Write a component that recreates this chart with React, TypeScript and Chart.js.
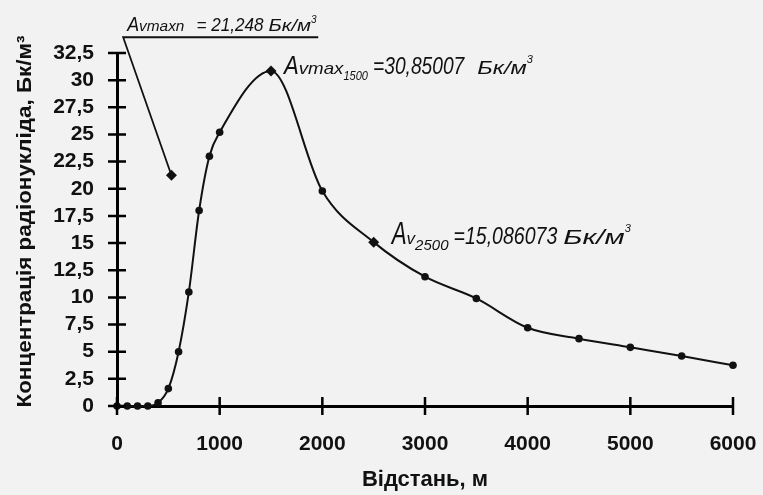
import React, { useEffect, useRef } from "react";
import { Chart, registerables } from "chart.js";

Chart.register(...registerables);

// ---- data ----
const distances = [0, 100, 200, 300, 400, 500, 600, 700, 800, 900, 1000, 1500, 2000, 2500, 3000, 3500, 4000, 4500, 5000, 5500, 6000];
const concentration = [0, 0, 0, 0, 0.3, 1.6, 5.0, 10.5, 18.0, 23.0, 25.2, 30.85007, 19.8, 15.086073, 11.9, 9.9, 7.2, 6.2, 5.4, 4.6, 3.75];
const diamondDistances = [1500, 2500];

// leader line of the "Avmaxn" note (underline + pointer to its diamond)
const noteLineX = [1960, 60, 530];
const noteLineY = [33.95, 33.95, 21.248];

const xMin = 0;
const xMax = 6000;
const xStep = 1000;
const yMin = 0;
const yMax = 32.5;
const yStep = 2.5;

const xTitle = "Відстань, м";
const yTitle = "Концентрація радіонукліда, Бк/м³";

const noteMaxN = { a: "A", sub: "vmaxn", val: "= 21,248", unit: "Бк/м" };
const noteMax1500 = { a: "A", mid: "vmax", sub: "1500", val: "=30,85007", unit: "Бк/м" };
const note2500 = { a: "A", mid: "v", sub: "2500", val: "=15,086073", unit: "Бк/м" };

const HAND = '"Liberation Sans"';

type Part = { t: string; size: number; dy?: number; sx?: number; gap?: number };

function drawRich(ctx: CanvasRenderingContext2D, x: number, y: number, parts: Part[]) {
  let cx = x;
  for (const p of parts) {
    cx += p.gap || 0;
    ctx.font = `italic ${p.size}px ${HAND}`;
    const w = ctx.measureText(p.t).width;
    const sx = p.sx || 1;
    ctx.save();
    ctx.translate(cx, y + (p.dy || 0));
    ctx.scale(sx, 1);
    ctx.fillText(p.t, 0, 0);
    ctx.restore();
    cx += w * sx;
  }
}

const crossTicks = {
  id: "crossTicks",
  afterDraw(chart: any) {
    const ctx = chart.ctx as CanvasRenderingContext2D;
    const xs = chart.scales.x;
    const ys = chart.scales.y;
    const ax = xs.getPixelForValue(xMin);
    const ay = ys.getPixelForValue(yMin);
    const L = 9;
    ctx.save();
    ctx.strokeStyle = "#000";
    ctx.lineWidth = 2.5;
    ctx.beginPath();
    for (let v = yMin; v <= yMax + 1e-9; v += yStep) {
      const py = ys.getPixelForValue(v);
      ctx.moveTo(ax - L, py);
      ctx.lineTo(ax + L, py);
    }
    for (let v = xMin; v <= xMax + 1e-9; v += xStep) {
      const px = xs.getPixelForValue(v);
      ctx.moveTo(px, ay - L);
      ctx.lineTo(px, ay + L);
    }
    ctx.stroke();
    ctx.restore();
  },
};

const yTitlePlugin = {
  id: "yTitlePlugin",
  afterDraw(chart: any) {
    const ctx = chart.ctx as CanvasRenderingContext2D;
    const ca = chart.chartArea;
    ctx.save();
    ctx.fillStyle = "#111";
    ctx.font = `bold 21px "Liberation Sans"`;
    ctx.textAlign = "center";
    ctx.textBaseline = "middle";
    const w = ctx.measureText(yTitle).width;
    const target = 372;
    ctx.translate(25, (ca.top + ca.bottom) / 2 - 8);
    ctx.rotate(-Math.PI / 2);
    ctx.scale(target / w, 1);
    ctx.fillText(yTitle, 0, 0);
    ctx.restore();
  },
};

const notes = {
  id: "notes",
  afterDraw(chart: any) {
    const ctx = chart.ctx as CanvasRenderingContext2D;
    const xs = chart.scales.x;
    const ys = chart.scales.y;
    ctx.save();
    ctx.fillStyle = "#111";
    ctx.textBaseline = "alphabetic";
    ctx.textAlign = "left";

    // note 1 sits on its underline
    const n1x = xs.getPixelForValue(noteLineX[1]) + 4;
    const n1y = ys.getPixelForValue(noteLineY[1]) - 6;
    drawRich(ctx, n1x, n1y, [
      { t: noteMaxN.a, size: 21, sx: 0.85 },
      { t: noteMaxN.sub, size: 14, sx: 1.1 },
      { t: noteMaxN.val, size: 18, sx: 0.95, gap: 12 },
      { t: noteMaxN.unit, size: 17, sx: 1.2, gap: 5 },
      { t: "3", size: 10, dy: -8 },
    ]);

    const meta = chart.getDatasetMeta(0);
    const i1500 = distances.indexOf(diamondDistances[0]);
    const i2500 = distances.indexOf(diamondDistances[1]);
    const p1 = meta.data[i1500];
    const p2 = meta.data[i2500];

    drawRich(ctx, p1.x + 13, p1.y + 3, [
      { t: noteMax1500.a, size: 26, sx: 0.85 },
      { t: noteMax1500.mid, size: 17, sx: 1.1 },
      { t: noteMax1500.sub, size: 13, dy: 6, sx: 0.85 },
      { t: noteMax1500.val, size: 24, sx: 0.8, gap: 5 },
      { t: noteMax1500.unit, size: 19, sx: 1.25, gap: 13 },
      { t: "3", size: 11, dy: -11 },
    ]);

    drawRich(ctx, p2.x + 18, p2.y + 2, [
      { t: note2500.a, size: 32, sx: 0.7 },
      { t: note2500.mid, size: 17, sx: 1.0 },
      { t: note2500.sub, size: 15, dy: 6, sx: 1.0 },
      { t: note2500.val, size: 23, sx: 0.85, gap: 5 },
      { t: note2500.unit, size: 21, sx: 1.4, gap: 6 },
      { t: "3", size: 11, dy: -12 },
    ]);
    ctx.restore();
  },
};

export default function App() {
  const ref = useRef<HTMLCanvasElement>(null);

  useEffect(() => {
    if (!ref.current) return;
    const pts = distances.map((d, i) => ({ x: d, y: concentration[i] }));
    const isDiamond = distances.map((d) => diamondDistances.includes(d));
    const chart = new Chart(ref.current, {
      type: "line",
      data: {
        datasets: [
          {
            data: pts,
            borderColor: "#111",
            backgroundColor: "#111",
            borderWidth: 2,
            cubicInterpolationMode: "monotone",
            pointStyle: isDiamond.map((b) => (b ? "rectRot" : "circle")) as any,
            pointRadius: isDiamond.map((b) => (b ? 5.5 : 3.8)),
            pointBorderWidth: 0,
            clip: false as any,
          },
          {
            data: noteLineX.map((x, i) => ({ x, y: noteLineY[i] })),
            borderColor: "#111",
            backgroundColor: "#111",
            borderWidth: 1.8,
            tension: 0,
            pointStyle: "rectRot",
            pointRadius: noteLineX.map((_, i) => (i === noteLineX.length - 1 ? 5.5 : 0)),
            pointBorderWidth: 0,
            clip: false as any,
          },
        ],
      },
      options: {
        animation: false,
        responsive: false,
        maintainAspectRatio: false,
        layout: { padding: { top: 53, right: 30, left: 0, bottom: 0 } },
        plugins: { legend: { display: false }, tooltip: { enabled: false } },
        scales: {
          x: {
            type: "linear",
            min: xMin,
            max: xMax,
            afterFit: (s: any) => {
              s.height = 89;
              s.paddingLeft = 0;
              s.paddingRight = 0;
            },
            ticks: {
              stepSize: xStep,
              autoSkip: false,
              maxRotation: 0,
              padding: 26,
              color: "#111",
              font: { family: "Liberation Sans", size: 21, weight: "bold" },
              callback: (v: any) => String(v),
            },
            grid: { drawOnChartArea: false, drawTicks: false },
            border: { color: "#000", width: 3 },
            title: {
              display: true,
              text: xTitle,
              color: "#111",
              font: { family: "Liberation Sans", size: 22, weight: "bold" },
              padding: { top: 0, bottom: 2 },
            },
          },
          y: {
            type: "linear",
            min: yMin,
            max: yMax,
            afterFit: (s: any) => {
              s.width = 117;
              s.paddingTop = 0;
              s.paddingBottom = 0;
            },
            ticks: {
              stepSize: yStep,
              autoSkip: false,
              padding: 23,
              color: "#111",
              font: { family: "Liberation Sans", size: 21, weight: "bold" },
              callback: (v: any) => String(v).replace(".", ","),
            },
            grid: { drawOnChartArea: false, drawTicks: false },
            border: { color: "#000", width: 3 },
            title: { display: false },
          },
        },
      },
      plugins: [crossTicks, notes, yTitlePlugin],
    });
    return () => chart.destroy();
  }, []);

  return (
    <div
      style={{
        position: "fixed",
        left: 0,
        top: 0,
        width: 763,
        height: 495,
        background: "#f2f2f2",
      }}
    >
      <canvas ref={ref} width={763} height={495} style={{ width: 763, height: 495, display: "block" }} />
    </div>
  );
}
